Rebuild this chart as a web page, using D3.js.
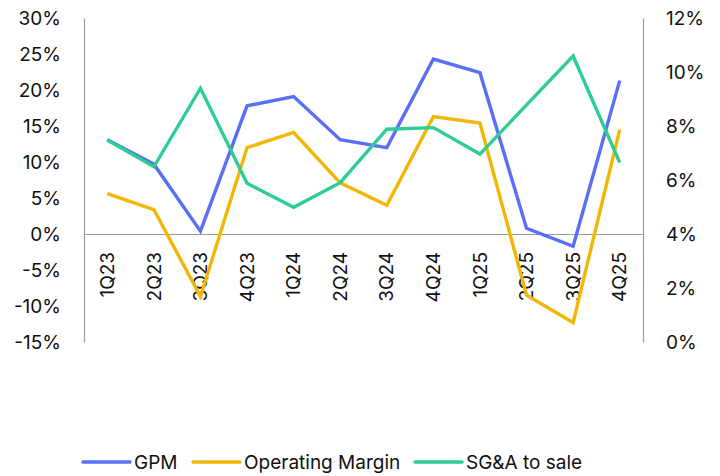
<!DOCTYPE html>
<html>
<head>
<meta charset="utf-8">
<script src="https://cdn.jsdelivr.net/npm/d3@7"></script>
<style>
  body { margin: 0; background: #fff; }
  svg text { font-family: Inter, "Noto Sans", sans-serif; fill: #111; }
</style>
</head>
<body>
<svg id="chart"></svg>
<script>
// quarters on the x axis
const quarters = ['1Q23','2Q23','3Q23','4Q23','1Q24','2Q24','3Q24','4Q24','1Q25','2Q25','3Q25','4Q25'];

// left axis series (%)
const gpm = [13.1, 9.7, 0.4, 17.8, 19.1, 13.1, 12.0, 24.3, 22.4, 0.8, -1.7, 21.3];
const opMargin = [5.6, 3.4, -8.7, 12.0, 14.1, 7.1, 4.0, 16.3, 15.4, -8.5, -12.3, 14.5];

// right axis series (%)
const sgaToSale = [7.48, 6.49, 9.40, 5.88, 4.99, 5.90, 7.88, 7.94, 6.96, 8.78, 10.59, 6.65];

const leftTicks = [-15, -10, -5, 0, 5, 10, 15, 20, 25, 30];
const rightTicks = [0, 2, 4, 6, 8, 10, 12];

const seriesNames = ['GPM', 'Operating Margin', 'SG&A to sale'];
const colors = ['#5a6ff8', '#f2b705', '#2ecc96'];

const width = 720, height = 476;
const margin = {top: 18, right: 77, bottom: 134, left: 84};
const fontSize = '19px';

const svg = d3.select('#chart')
    .attr('width', width)
    .attr('height', height);

const innerW = width - margin.left - margin.right;
const innerH = height - margin.top - margin.bottom;

const chart = svg.append('g')
    .attr('transform', `translate(${margin.left},${margin.top})`);

// scales
const xScale = d3.scaleBand()
    .domain(quarters)
    .range([0, innerW]);

const yLeft = d3.scaleLinear()
    .domain([-15, 30])
    .range([innerH, 0]);

const yRight = d3.scaleLinear()
    .domain([0, 12])
    .range([innerH, 0]);

const xPos = d => xScale(d) + xScale.bandwidth() / 2;

// left axis
const leftAxis = chart.append('g')
    .call(d3.axisLeft(yLeft).tickValues(leftTicks).tickSize(0).tickPadding(23).tickFormat(d => d + '%'));
leftAxis.select('.domain').attr('stroke', '#9a9a9a').attr('stroke-width', 1.2);
leftAxis.selectAll('text').style('font-size', fontSize);

// right axis
const rightAxis = chart.append('g')
    .attr('transform', `translate(${innerW},0)`)
    .call(d3.axisRight(yRight).tickValues(rightTicks).tickSize(0).tickPadding(23).tickFormat(d => d + '%'));
rightAxis.select('.domain').attr('stroke', '#9a9a9a').attr('stroke-width', 1.2);
rightAxis.selectAll('text').style('font-size', fontSize);

// x axis at zero line
const xAxis = chart.append('g')
    .attr('transform', `translate(0,${yLeft(0)})`)
    .call(d3.axisBottom(xScale).tickSize(0).tickSizeOuter(0));
xAxis.select('.domain').attr('stroke', '#9a9a9a').attr('stroke-width', 1.2);
xAxis.selectAll('text')
    .style('font-size', fontSize)
    .style('text-anchor', 'end')
    .attr('dx', -18)
    .attr('dy', '0.35em')
    .attr('y', 0)
    .attr('transform', 'rotate(-90)');

// lines
const lineLeft = d3.line()
    .x((d, i) => xPos(quarters[i]))
    .y(d => yLeft(d));

const lineRight = d3.line()
    .x((d, i) => xPos(quarters[i]))
    .y(d => yRight(d));

const data = [
  {values: gpm, line: lineLeft},
  {values: opMargin, line: lineLeft},
  {values: sgaToSale, line: lineRight}
];

chart.selectAll('.series')
    .data(data)
  .join('path')
    .attr('class', 'series')
    .attr('fill', 'none')
    .attr('stroke', (d, i) => colors[i])
    .attr('stroke-width', 3.4)
    .attr('stroke-linejoin', 'miter')
    .attr('d', d => d.line(d.values));

// legend
const legendX = [83, 193, 415];
const legend = svg.append('g')
    .attr('transform', 'translate(0,462)');

const items = legend.selectAll('g')
    .data(seriesNames)
  .join('g')
    .attr('transform', (d, i) => `translate(${legendX[i]},0)`);

items.append('line')
    .attr('x1', 0).attr('x2', 47)
    .attr('stroke', (d, i) => colors[i])
    .attr('stroke-width', 3.5)
    .attr('stroke-linecap', 'round');

items.append('text')
    .attr('x', 51)
    .attr('dy', '0.35em')
    .style('font-size', fontSize)
    .text(d => d);
</script>
</body>
</html>
